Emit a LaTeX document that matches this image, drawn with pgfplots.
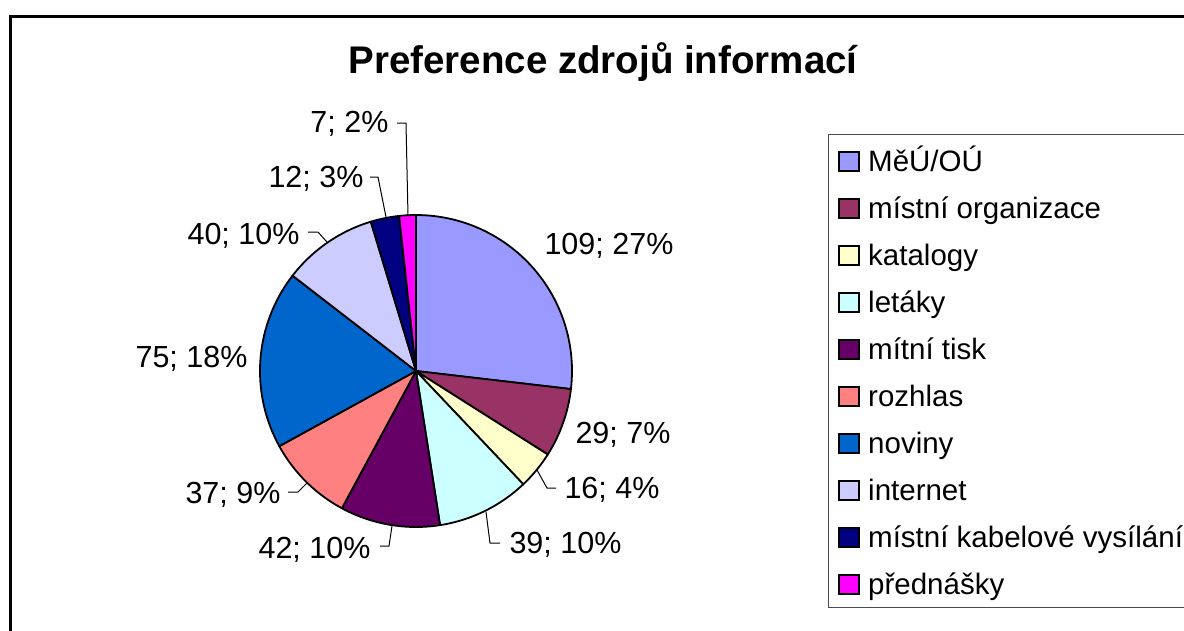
\documentclass[border=0pt]{standalone}
\usepackage{fontspec}
\setmainfont{Liberation Sans}
\usepackage{pgfplots}
\usepackage{pgfplotstable}
\pgfplotsset{compat=1.18}

% Excel 2003 palette
\definecolor{s0}{HTML}{9999FF}
\definecolor{s1}{HTML}{993366}
\definecolor{s2}{HTML}{FFFFCC}
\definecolor{s3}{HTML}{CCFFFF}
\definecolor{s4}{HTML}{660066}
\definecolor{s5}{HTML}{FF8080}
\definecolor{s6}{HTML}{0066CC}
\definecolor{s7}{HTML}{CCCCFF}
\definecolor{s8}{HTML}{000080}
\definecolor{s9}{HTML}{FF00FF}

% slices, clockwise from 12 o'clock
\pgfplotstableread[col sep=comma]{
name,value
MěÚ/OÚ,109
místní organizace,29
katalogy,16
letáky,39
mítní tisk,42
rozhlas,37
noviny,75
internet,40
místní kabelové vysílání,12
přednášky,7
}\piedata

\def\cx{416}\def\cy{371}\def\rr{156}

% total
\gdef\total{0}
\foreach \i in {0,...,9}{
  \pgfplotstablegetelem{\i}{value}\of\piedata
  \pgfmathsetmacro\tmp{\total+\pgfplotsretval}
  \xdef\total{\tmp}
}
% angles, labels, names
\gdef\cum{0}
\foreach \i in {0,...,9}{
  \pgfplotstablegetelem{\i}{value}\of\piedata
  \let\val\pgfplotsretval
  \pgfmathsetmacro\angA{90-360*(\cum/\total)}
  \pgfmathsetmacro\angB{90-360*((\cum+\val)/\total)}
  \pgfmathtruncatemacro\pct{round(100*\val/\total)}
  \expandafter\xdef\csname sa\i\endcsname{\angA}
  \expandafter\xdef\csname sb\i\endcsname{\angB}
  \expandafter\xdef\csname lab\i\endcsname{\val; \pct\%}
  \pgfmathsetmacro\tmp{\cum+\val}
  \xdef\cum{\tmp}
  \pgfplotstablegetelem{\i}{name}\of\piedata
  \expandafter\xdef\csname nm\i\endcsname{\pgfplotsretval}
}

\newcommand\labfont{\fontsize{30.5}{34}\selectfont}
\newcommand\legfont{\fontsize{29.5}{33}\selectfont}

\begin{document}
\begin{tikzpicture}
\begin{axis}[
    width=1184pt, height=630pt, scale only axis,
    xmin=0, xmax=1184, ymin=0, ymax=630, y dir=reverse,
    hide axis, clip=false,
]
% wedges
\pgfplotsinvokeforeach{0,...,9}{
  \addplot[fill=s#1, draw=black, line width=1.8pt, line join=round,
    samples=60, variable=\t,
    domain/.expanded={\csname sb#1\endcsname:\csname sa#1\endcsname}]
    ({\cx+\rr*cos(\t)}, {\cy-\rr*sin(\t)}) -- (axis cs:\cx,\cy) -- cycle;
}

% chart frame and title
\draw[line width=3pt] (axis cs:10,660) -- (axis cs:10,16) -- (axis cs:1210,16);
\node[anchor=base, font=\bfseries\fontsize{38.5}{43}\selectfont] at (axis cs:603,73) {Preference zdrojů informací};

% data labels
\node[anchor=base west, font=\labfont] at (axis cs:541,254) {\csname lab0\endcsname};
\node[anchor=base west, font=\labfont] at (axis cs:572,443) {\csname lab1\endcsname};
\node[anchor=base west, font=\labfont] at (axis cs:561,498) {\csname lab2\endcsname};
\node[anchor=base west, font=\labfont] at (axis cs:506,553) {\csname lab3\endcsname};
\node[anchor=base east, font=\labfont] at (axis cs:374,558) {\csname lab4\endcsname};
\node[anchor=base east, font=\labfont] at (axis cs:284,503) {\csname lab5\endcsname};
\node[anchor=base east, font=\labfont] at (axis cs:251,367) {\csname lab6\endcsname};
\node[anchor=base east, font=\labfont] at (axis cs:303,244) {\csname lab7\endcsname};
\node[anchor=base east, font=\labfont] at (axis cs:367,187) {\csname lab8\endcsname};
\node[anchor=base east, font=\labfont] at (axis cs:392,132) {\csname lab9\endcsname};

% leader lines
\draw[line width=1pt] (axis cs:556,488) -- (axis cs:547,488) -- (axis cs:537,470);
\draw[line width=1pt] (axis cs:500,543) -- (axis cs:490,543) -- (axis cs:486,512);
\draw[line width=1pt] (axis cs:380,546) -- (axis cs:389,546) -- (axis cs:392,526);
\draw[line width=1pt] (axis cs:288,492) -- (axis cs:298,492) -- (axis cs:307,483);
\draw[line width=1pt] (axis cs:308,232) -- (axis cs:318,232) -- (axis cs:327,242);
\draw[line width=1pt] (axis cs:370,177) -- (axis cs:378,177) -- (axis cs:386,217);
\draw[line width=1pt] (axis cs:397,123) -- (axis cs:406,123) -- (axis cs:408,216);

% legend
\draw[line width=1pt, black!70] (axis cs:1210,134) -- (axis cs:828,134) -- (axis cs:828,607) -- (axis cs:1210,607);
\pgfplotsinvokeforeach{0,...,9}{
  \draw[fill=s#1, line width=1.3pt] (axis cs:839,{152+47*#1}) rectangle (axis cs:859,{171+47*#1});
  \node[anchor=base west, inner sep=0pt, font=\legfont] at (axis cs:868,{171+47*#1}) {\csname nm#1\endcsname};
}
\end{axis}
\pgfresetboundingbox
\path[use as bounding box] (current axis.south west) rectangle (current axis.north east);
\end{tikzpicture}
\end{document}
